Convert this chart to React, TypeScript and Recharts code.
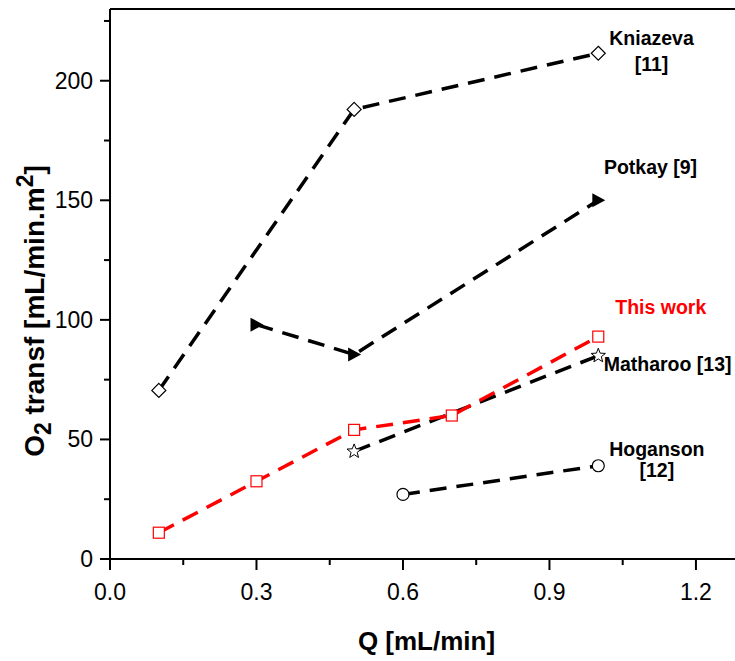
import { ComposedChart, Line, XAxis, YAxis, ReferenceLine, ReferenceDot } from 'recharts';

const kniazeva = [
  { x: 0.1, y: 70.5 },
  { x: 0.5, y: 188 },
  { x: 1.0, y: 211.5 },
];
const potkay = [
  { x: 0.3, y: 98 },
  { x: 0.5, y: 85.5 },
  { x: 1.0, y: 150 },
];
const thisWork = [
  { x: 0.1, y: 11 },
  { x: 0.3, y: 32.5 },
  { x: 0.5, y: 54 },
  { x: 0.7, y: 60 },
  { x: 1.0, y: 93 },
];
const matharoo = [
  { x: 0.5, y: 45 },
  { x: 1.0, y: 85 },
];
const hoganson = [
  { x: 0.6, y: 27 },
  { x: 1.0, y: 39 },
];

const xTicks = [0, 0.15, 0.3, 0.45, 0.6, 0.75, 0.9, 1.05, 1.2];
const yTicks = [0, 25, 50, 75, 100, 125, 150, 175, 200, 225];

// annotation text anchored in data coordinates
const notes = [
  { x: 1.109, y: 218, text: 'Kniazeva', color: '#000' },
  { x: 1.109, y: 207, text: '[11]', color: '#000' },
  { x: 1.107, y: 164, text: 'Potkay [9]', color: '#000' },
  { x: 1.128, y: 105.5, text: 'This work', color: '#ff0000' },
  { x: 1.142, y: 81.5, text: 'Matharoo [13]', color: '#000' },
  { x: 1.12, y: 46, text: 'Hoganson', color: '#000' },
  { x: 1.12, y: 37, text: '[12]', color: '#000' },
];

const FONT = '"Liberation Sans", Arial, sans-serif';

const makeDot = (kind: string) => (props: any) => {
  const { cx, cy, index } = props;
  if (cx == null || cy == null) return <g key={index} />;
  if (kind === 'diamond') {
    const r = 7;
    return (
      <polygon key={index} points={`${cx},${cy - r} ${cx + r},${cy} ${cx},${cy + r} ${cx - r},${cy}`}
        fill="#fff" stroke="#000" strokeWidth={1.2} />
    );
  }
  if (kind === 'triangle') {
    return (
      <polygon key={index} points={`${cx - 6},${cy - 7} ${cx + 7},${cy} ${cx - 6},${cy + 7}`} fill="#000" />
    );
  }
  if (kind === 'square') {
    const s = 5.5;
    return <rect key={index} x={cx - s} y={cy - s} width={2 * s} height={2 * s} fill="#fff" stroke="#ff0000" strokeWidth={1.2} />;
  }
  if (kind === 'star') {
    const pts: string[] = [];
    for (let i = 0; i < 10; i++) {
      const r = i % 2 === 0 ? 7.5 : 3.2;
      const a = -Math.PI / 2 + (i * Math.PI) / 5;
      pts.push(`${cx + r * Math.cos(a)},${cy + r * Math.sin(a)}`);
    }
    return <polygon key={index} points={pts.join(' ')} fill="#fff" stroke="#000" strokeWidth={1} />;
  }
  return <circle key={index} cx={cx} cy={cy} r={6} fill="#fff" stroke="#000" strokeWidth={1.2} />;
};

const YTick = (props: any) => {
  const { x, y, payload } = props;
  const major = payload.value % 50 === 0;
  return (
    <g>
      <line x1={x - (major ? 10 : 6)} y1={y} x2={x} y2={y} stroke="#000" strokeWidth={2} />
      {major && (
        <text x={x - 17} y={y} dy="0.35em" textAnchor="end" fontSize={23} fontFamily={FONT} fill="#000">
          {payload.value}
        </text>
      )}
    </g>
  );
};

const XTick = (props: any) => {
  const { x, y, payload, index } = props;
  const major = index % 2 === 0;
  return (
    <g>
      <line x1={x} y1={y} x2={x} y2={y + (major ? 11 : 6)} stroke="#000" strokeWidth={2} />
      {major && (
        <text x={x} y={y + 33} dy="0.35em" textAnchor="middle" fontSize={23} fontFamily={FONT} fill="#000">
          {payload.value.toFixed(1)}
        </text>
      )}
    </g>
  );
};

const YLabel = (props: any) => {
  const vb = props.viewBox;
  const cx = 34;
  const cy = vb.y + vb.height / 2 + 27;
  return (
    <text x={cx} y={cy} transform={`rotate(-90, ${cx}, ${cy})`} textAnchor="middle" dy="0.35em"
      fontSize={28} fontWeight="bold" fontFamily={FONT} fill="#000">
      O<tspan fontSize={23} dy={7}>2</tspan>
      <tspan dy={-7}> transf [mL/min.m</tspan>
      <tspan fontSize={23} dy={-11}>2</tspan>
      <tspan dy={11}>]</tspan>
    </text>
  );
};

const XLabel = (props: any) => {
  const vb = props.viewBox;
  return (
    <text x={vb.x + vb.width / 2 + 4} y={641} dy="0.35em" textAnchor="middle"
      fontSize={26} fontWeight="bold" fontFamily={FONT} fill="#000">
      Q [mL/min]
    </text>
  );
};

const NoteLabel = (text: string, color: string) => (props: any) => {
  const vb = props.viewBox;
  return (
    <text x={vb.x + vb.width / 2} y={vb.y + vb.height / 2} dy="0.35em" textAnchor="middle"
      fontSize={19.5} fontWeight="bold" fontFamily={FONT} fill={color}>
      {text}
    </text>
  );
};

const dash = '17 10';

export default function App() {
  return (
    <div style={{ position: 'absolute', left: 0, top: 0, background: '#fff' }}>
      <ComposedChart width={735} height={661} margin={{ top: 9, right: 0, bottom: 0, left: 0 }}>
        <XAxis
          type="number"
          dataKey="x"
          domain={[0, 1.28]}
          ticks={xTicks}
          allowDataOverflow
          height={102}
          stroke="#000"
          strokeWidth={2}
          tickLine={false}
          tickSize={0}
          tickMargin={0}
          tick={<XTick />}
          interval={0}
          label={<XLabel />}
        />
        <YAxis
          type="number"
          dataKey="y"
          domain={[0, 230]}
          ticks={yTicks}
          allowDataOverflow
          width={110}
          stroke="#000"
          strokeWidth={2}
          tickLine={false}
          tickSize={0}
          tickMargin={0}
          tick={<YTick />}
          interval={0}
          label={<YLabel />}
        />
        <ReferenceLine y={230} stroke="#000" strokeWidth={2} />
        <Line data={kniazeva} dataKey="y" stroke="#000" strokeWidth={3.5} strokeDasharray={dash}
          dot={makeDot('diamond')} isAnimationActive={false} />
        <Line data={potkay} dataKey="y" stroke="#000" strokeWidth={3.5} strokeDasharray={dash}
          dot={makeDot('triangle')} isAnimationActive={false} />
        <Line data={matharoo} dataKey="y" stroke="#000" strokeWidth={3.5} strokeDasharray={dash}
          dot={makeDot('star')} isAnimationActive={false} />
        <Line data={hoganson} dataKey="y" stroke="#000" strokeWidth={3.5} strokeDasharray={dash}
          dot={makeDot('circle')} isAnimationActive={false} />
        <Line data={thisWork} dataKey="y" stroke="#ff0000" strokeWidth={3.5} strokeDasharray={dash}
          dot={makeDot('square')} isAnimationActive={false} />
        {notes.map((n) => (
          <ReferenceDot key={n.text} x={n.x} y={n.y} r={1} fill="none" stroke="none"
            label={NoteLabel(n.text, n.color)} />
        ))}
      </ComposedChart>
    </div>
  );
}
